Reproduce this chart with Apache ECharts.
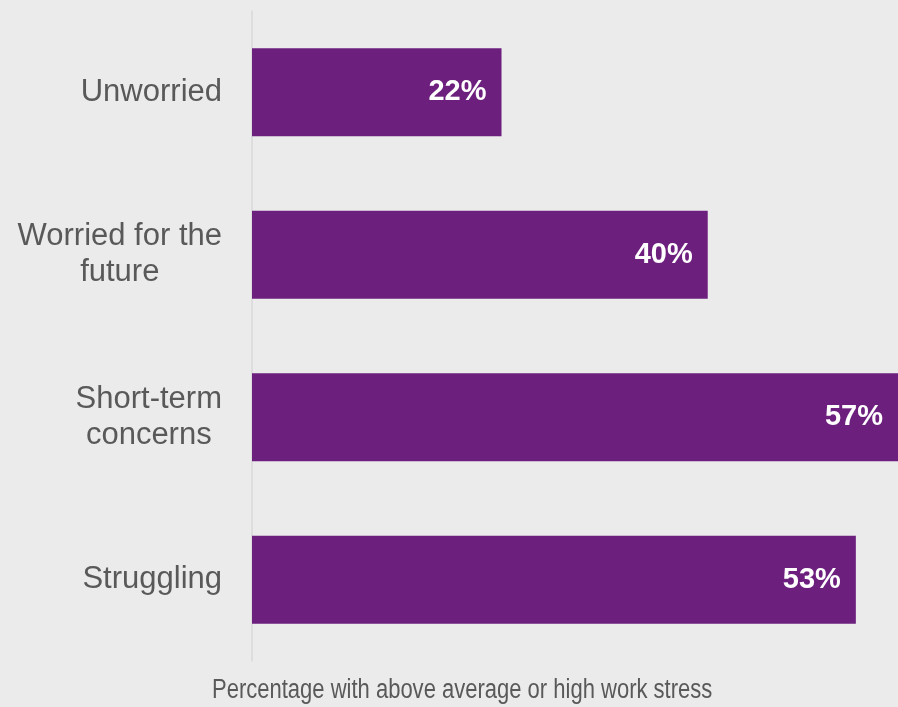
<!DOCTYPE html>
<html>
<head>
<meta charset="utf-8">
<script src="https://cdn.jsdelivr.net/npm/echarts@6/dist/echarts.min.js"></script>
<style>
html,body{margin:0;padding:0;background:#ebebeb;}
#c{width:898px;height:707px;}
</style>
</head>
<body>
<div id="c"></div>
<script>
const categories = ['Unworried', 'Worried for the\nfuture', 'Short-term\nconcerns', 'Struggling'];
const values = [21.9, 40, 57, 53];
const axisTitle = 'Percentage with above average or high work stress';

const chart = echarts.init(document.getElementById('c'), null, {renderer: 'canvas'});
chart.setOption({
  backgroundColor: '#ebebeb',
  animation: false,
  graphic: [{
    type: 'text',
    x: 212,
    y: 677,
    scaleX: 0.815,
    silent: true,
    style: {
      text: axisTitle,
      fontFamily: '"Liberation Sans", Arial, sans-serif',
      fontSize: 27,
      fill: '#595959',
      verticalAlign: 'top',
      align: 'left'
    }
  }],
  grid: {left: 252, right: 0, top: 11, bottom: 46, containLabel: false},
  xAxis: {
    type: 'value',
    min: 0,
    max: 56.7,
    show: false
  },
  yAxis: {
    type: 'category',
    data: categories,
    inverse: true,
    axisLine: {show: true, lineStyle: {color: '#d9d9d9', width: 1.5}},
    axisTick: {show: false},
    axisLabel: {
      margin: 30,
      align: 'right',
      color: '#595959',
      fontFamily: '"Liberation Sans", Arial, sans-serif',
      fontSize: 31,
      lineHeight: 36,
      formatter: function (v) {
        return v.split('\n').map(function (s) { return '{a|' + s + '}'; }).join('\n');
      },
      rich: {
        a: {
          align: 'center',
          color: '#595959',
          fontFamily: '"Liberation Sans", Arial, sans-serif',
          fontSize: 31,
          lineHeight: 36
        }
      }
    }
  },
  series: [{
    type: 'bar',
    data: values,
    barWidth: 88,
    itemStyle: {color: '#6d1f7e'},
    label: {
      show: true,
      position: 'insideRight',
      distance: 15,
      formatter: function (p) { return Math.round(p.value) + '%'; },
      color: '#ffffff',
      fontWeight: 'bold',
      fontSize: 29,
      fontFamily: '"Liberation Sans", Arial, sans-serif'
    }
  }]
});
</script>
</body>
</html>
